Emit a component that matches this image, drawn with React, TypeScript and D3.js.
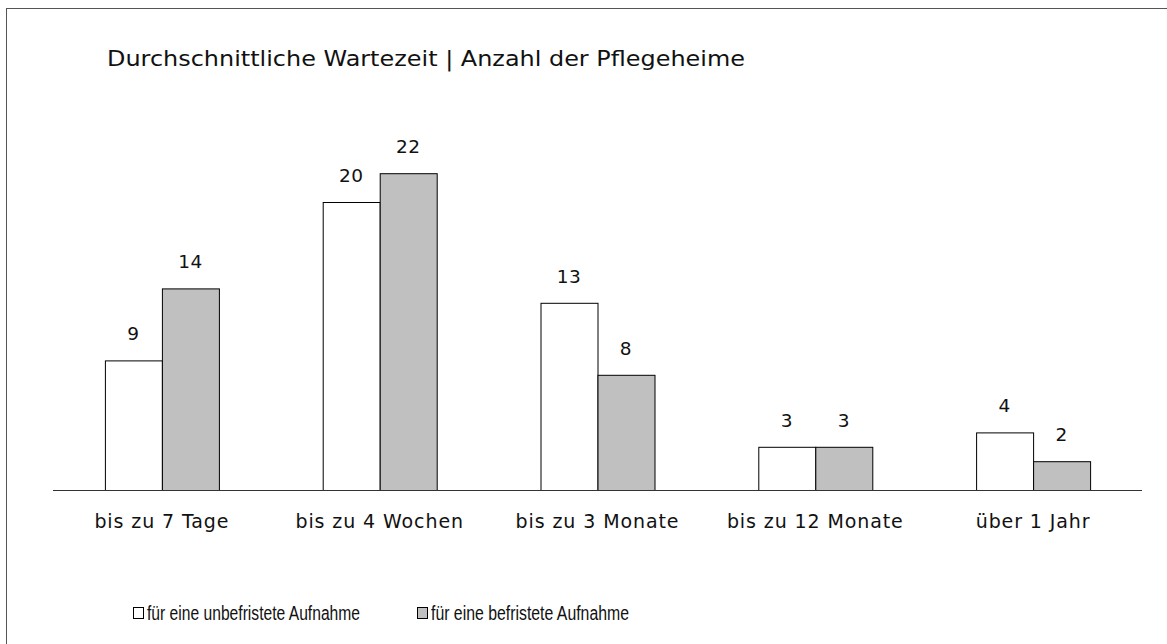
import React from "react";
import * as d3 from "d3";

const categories = ["bis zu 7 Tage", "bis zu 4 Wochen", "bis zu 3 Monate", "bis zu 12 Monate", "über 1 Jahr"];
const seriesNames = ["für eine unbefristete Aufnahme", "für eine befristete Aufnahme"];
const unbefristet = [9, 20, 13, 3, 4];
const befristet = [14, 22, 8, 3, 2];
const seriesColors = ["#ffffff", "#c0c0c0"];
const title = "Durchschnittliche Wartezeit | Anzahl der Pflegeheime";

const W = 1167;
const H = 644;
const FONT = "'DejaVu Sans', Verdana, sans-serif";
const LEGEND_FONT = "'Liberation Sans Narrow', 'Liberation Sans', Arial, sans-serif";

export default function App() {
  const series = [unbefristet, befristet];
  const p = 1 - 114 / 217.8;
  const x0 = d3.scaleBand<string>().domain(categories).range([53, 1142]).paddingInner(p).paddingOuter(p / 2);
  const x1 = d3.scaleBand<number>().domain([0, 1]).range([0, x0.bandwidth()]).padding(0);
  const y = d3.scaleLinear().domain([0, 25]).range([490, 130]);

  return (
    <svg width={W} height={H} style={{ position: "absolute", left: 0, top: 0, background: "#fff" }}>
      <rect x={6.5} y={8.5} width={1300} height={800} fill="#fff" stroke="#555" strokeWidth={1} />
      <text x={107} y={66} fontFamily={FONT} fontSize={21.5} fill="#111" textLength={638} lengthAdjust="spacingAndGlyphs">{title}</text>
      {categories.map((c, i) => (
        <g key={c}>
          {series.map((s, si) => {
            const bx = (x0(c) as number) + (x1(si) as number);
            const bw = x1.bandwidth();
            return (
              <g key={si}>
                <rect x={bx + 0.5} y={y(s[i]) + 0.5} width={bw} height={y(0) - y(s[i])} fill={seriesColors[si]} stroke="#000" strokeWidth={1} />
                <text x={bx + bw / 2} y={y(s[i]) - 20} textAnchor="middle" fontFamily={FONT} fontSize={18.5} letterSpacing={0.5} fill="#111">{s[i]}</text>
              </g>
            );
          })}
          <text x={(x0(c) as number) + x0.bandwidth() / 2} y={528} textAnchor="middle" fontFamily={FONT} fontSize={19} letterSpacing={0.9} fill="#111">{c}</text>
        </g>
      ))}
      <line x1={53} x2={1142} y1={490.5} y2={490.5} stroke="#333" strokeWidth={1.2} />
      {seriesNames.map((n, i) => {
        const lx = [133, 417][i];
        return (
          <g key={n}>
            <rect x={lx + 0.5} y={607.5} width={10} height={11} fill={seriesColors[i]} stroke="#000" strokeWidth={1} />
            <text x={lx + 14} y={620} fontFamily={LEGEND_FONT} fontSize={19.5} fill="#111" textLength={[213, 198][i]} lengthAdjust="spacingAndGlyphs">{n}</text>
          </g>
        );
      })}
    </svg>
  );
}
